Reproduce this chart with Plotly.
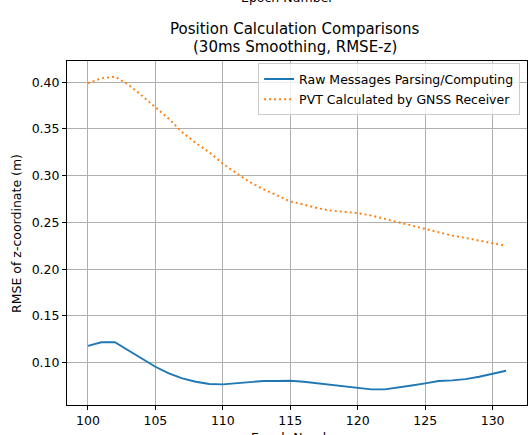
import plotly.graph_objects as go

# Epoch index and per-epoch RMSE of the z coordinate (metres)
epochs = list(range(100, 132))
raw_rmse_z = [
    0.1180, 0.1219, 0.1220, 0.1133, 0.1047, 0.0957, 0.0886, 0.0833, 0.0797, 0.0772,
    0.0768, 0.0779, 0.0786, 0.0804, 0.0804, 0.0807, 0.0797, 0.0782, 0.0764, 0.0747,
    0.0729, 0.0715, 0.0715, 0.0732, 0.0757, 0.0779, 0.0804, 0.0811, 0.0825, 0.0850,
    0.0879, 0.0914,
]
pvt_rmse_z = [
    0.3990, 0.4043, 0.4060, 0.3975, 0.3857, 0.3736, 0.3608, 0.3464, 0.3350, 0.3250,
    0.3129, 0.3029, 0.2932, 0.2857, 0.2789, 0.2725, 0.2692, 0.2654, 0.2628, 0.2614,
    0.2600, 0.2575, 0.2540, 0.2504, 0.2468, 0.2429, 0.2392, 0.2360, 0.2335, 0.2307,
    0.2279, 0.2250,
]
x_ticks = [100, 105, 110, 115, 120, 125, 130]
y_ticks = [0.10, 0.15, 0.20, 0.25, 0.30, 0.35, 0.40]

series_names = ["Raw Messages Parsing/Computing", "PVT Calculated by GNSS Receiver"]

FONT = "DejaVu Sans"
TXT = 12.5

# 5 % padding around the data, like matplotlib's autoscale
def padded(lo, hi, frac=0.05):
    d = (hi - lo) * frac
    return [lo - d, hi + d]

x_range = padded(min(epochs), max(epochs))
y_range = padded(min(raw_rmse_z + pvt_rmse_z), max(raw_rmse_z + pvt_rmse_z))

fig = go.Figure()
fig.add_trace(go.Scatter(
    x=epochs, y=raw_rmse_z, mode="lines", name=series_names[0],
    line=dict(color="#1f77b4", width=1.9), legendgroup="a",
))
fig.add_trace(go.Scatter(
    x=epochs, y=pvt_rmse_z, mode="lines", name=series_names[1],
    line=dict(color="#ff7f0e", width=1.9, dash="2px,3px"), legendgroup="b",
))

axis_common = dict(
    showline=True, mirror=True, linecolor="black", linewidth=1,
    showgrid=True, gridcolor="#b0b0b0", gridwidth=1, zeroline=False,
    ticks="outside", ticklen=4, tickwidth=1, tickcolor="black",
    tickfont=dict(family=FONT, size=TXT, color="black"),
)

fig.update_xaxes(range=x_range, tickvals=x_ticks, **axis_common)
fig.update_yaxes(range=y_range, tickvals=y_ticks, tickformat=".2f", **axis_common)

annotations = [
    # x-axis label of the panel above (mostly outside the frame)
    dict(text="Epoch Number", xref="paper", yref="paper", x=0.479, y=1.156,
         xanchor="center", yanchor="bottom", showarrow=False,
         font=dict(family=FONT, size=TXT, color="black")),
    # two-line title
    dict(text="Position Calculation Comparisons", xref="paper", yref="paper",
         x=0.495, y=1.0596, xanchor="center", yanchor="bottom", showarrow=False,
         font=dict(family=FONT, size=15, color="black")),
    dict(text="(30ms Smoothing, RMSE-z)", xref="paper", yref="paper",
         x=0.495, y=1.0093, xanchor="center", yanchor="bottom", showarrow=False,
         font=dict(family=FONT, size=15, color="black")),
    # axis titles
    dict(text="RMSE of z-coordinate (m)", xref="paper", yref="paper",
         x=-0.111, y=0.5, xanchor="center", yanchor="middle", textangle=-90,
         showarrow=False, font=dict(family=FONT, size=TXT, color="black")),
    dict(text="Epoch Number", xref="paper", yref="paper", x=0.5, y=-0.067,
         xanchor="center", yanchor="top", showarrow=False,
         font=dict(family=FONT, size=TXT, color="black")),
]

fig.update_layout(
    width=529, height=435,
    margin=dict(l=67, r=2, t=61, b=30),
    paper_bgcolor="white", plot_bgcolor="white",
    font=dict(family=FONT, size=TXT, color="black"),
    showlegend=True,
    legend=dict(
        x=0.985, y=0.993, xanchor="right", yanchor="top",
        bgcolor="rgba(255,255,255,0.8)", bordercolor="#cccccc", borderwidth=1,
        font=dict(family=FONT, size=TXT, color="black"),
        tracegroupgap=1,
    ),
    annotations=annotations,
)

fig.write_html("out.html")
